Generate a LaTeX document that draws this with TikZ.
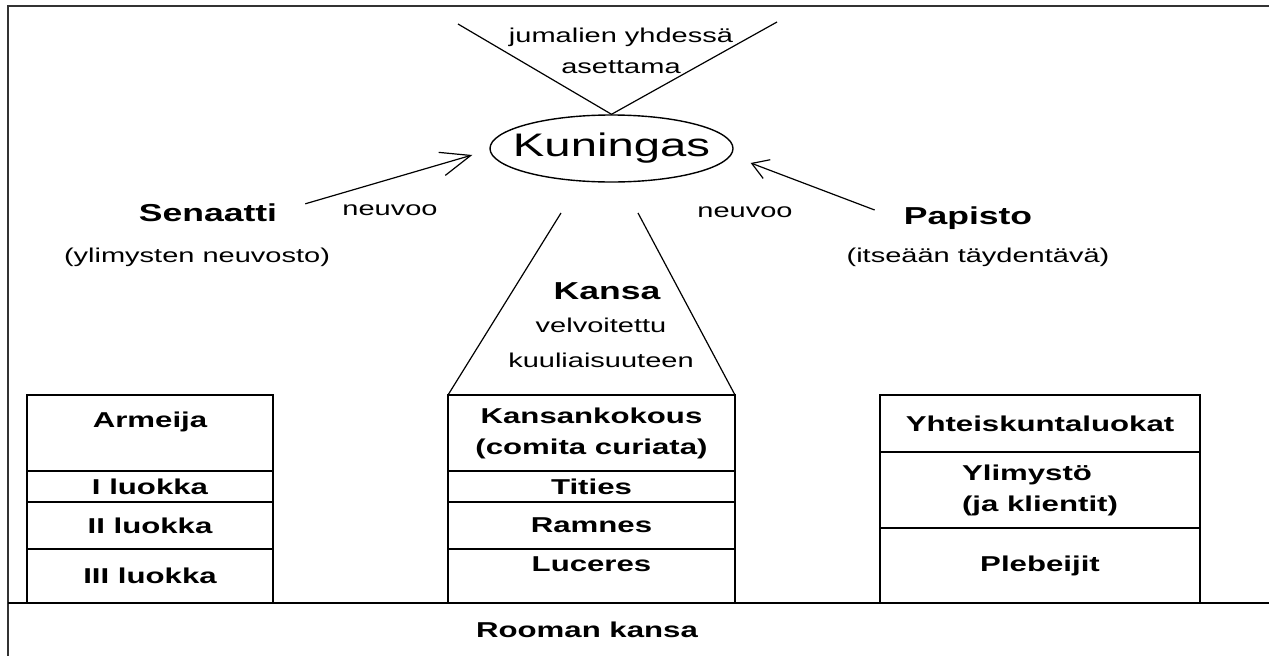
\documentclass[tikz,border=0pt]{standalone}
\usepackage{fontspec}
\setmainfont{Liberation Sans}[FakeStretch=1.45]
\usetikzlibrary{shapes,arrows.meta,positioning}

\begin{document}
\begin{tikzpicture}[x=1pt,y=-1pt,
        txt/.style={inner sep=0pt,align=center,font=\fontsize{20}{31}\selectfont},
        title/.style={inner sep=0pt,font=\bfseries\fontsize{24.5}{30}\selectfont},
        cell/.style={draw,line width=1.8pt,inner sep=0pt,outer sep=0pt,align=center,
                font=\bfseries\fontsize{21.5}{31}\selectfont},
        thin/.style={line width=1.2pt},
        advise/.style={line width=1.2pt,-{Straight Barb[length=30pt,width=24pt]}}]
        \useasboundingbox (0,0) rectangle (1269,656);
        % frame and the bottom row
        \draw[line width=2.2pt,black!80] (1269,6) -- (8,6) -- (8,656);
        \draw[line width=1.8pt] (8,603) -- (1269,603);
        \node[cell,draw=none] (rooma) at (587,630) {Rooman kansa};
        % king
        \node[draw,ellipse,line width=1.4pt,inner xsep=-18pt,inner ysep=0pt,
                minimum width=243pt,minimum height=67pt,
                font=\fontsize{32.6}{36}\selectfont] (kuningas) at (611.5,148.5) {Kuningas};
        \node[txt] (jumalat) at (621,51) {jumalien yhdessä\\asettama};
        \coordinate (vl) at (458,24);
        \coordinate (vr) at (777,22);
        \draw[thin] (vl) -- (kuningas.north) -- (vr);
        % senate and priests
        \node[title] (senaatti) at (208,213) {Senaatti};
        \node[txt] (ylimykset) at (197,257) {(ylimysten neuvosto)};
        \node[title] (papisto) at (968,218) {Papisto};
        \node[txt] (taydentava) at (978,257) {(itseään täydentävä)};
        \draw[advise] ([xshift=28pt]senaatti.north east) -- ([shift={(-17,6.5)}]kuningas.west);
        \draw[advise,-{Straight Barb[length=16pt,width=20pt]}]
        ([shift={(-29,-8)}]papisto.west) -- ([shift={(17,14.5)}]kuningas.east);
        \node[txt] (neuvoo1) at (390,210) {neuvoo};
        \node[txt] (neuvoo2) at (745,212) {neuvoo};
        % army
        \node[cell,minimum width=246pt,minimum height=76pt,anchor=north west] (armeija) at (27,395) {Armeija\\[-5pt]\mbox{}};
        \node[cell,minimum width=246pt,minimum height=31pt,below=0pt of armeija] (luokka1) {I luokka};
        \node[cell,minimum width=246pt,minimum height=47pt,below=0pt of luokka1] (luokka2) {II luokka};
        \node[cell,minimum width=246pt,minimum height=54pt,below=0pt of luokka2] (luokka3) {III luokka};
        % people
        \node[cell,minimum width=287pt,minimum height=76pt,anchor=north west] (kokous) at (448,395) {Kansankokous\\(comita curiata)};
        \node[cell,minimum width=287pt,minimum height=31pt,below=0pt of kokous] (tities) {Tities};
        \node[cell,minimum width=287pt,minimum height=47pt,below=0pt of tities] (ramnes) {Ramnes};
        \node[cell,minimum width=287pt,minimum height=54pt,below=0pt of ramnes] (luceres) {Luceres\\[-8pt]\mbox{}};
        \node[title] (kansa) at (607,291) {Kansa};
        \node[txt,font=\fontsize{20}{35}\selectfont] (velvoite) at (601,343) {velvoitettu\\kuuliaisuuteen};
        \coordinate (tl) at (561,213);
        \coordinate (tr) at (638,213);
        \draw[thin] (tl) -- (kokous.north west);
        \draw[thin] (tr) -- (kokous.north east);
        % classes
        \node[cell,minimum width=320pt,minimum height=57pt,anchor=north west] (luokat) at (880,395) {Yhteiskuntaluokat};
        \node[cell,minimum width=320pt,minimum height=76pt,below=0pt of luokat,align=left] (ylimysto) {Ylimystö\\(ja klientit)};
        \node[cell,minimum width=320pt,minimum height=75pt,below=0pt of ylimysto] (plebeijit) {Plebeijit};
\end{tikzpicture}
\end{document}
